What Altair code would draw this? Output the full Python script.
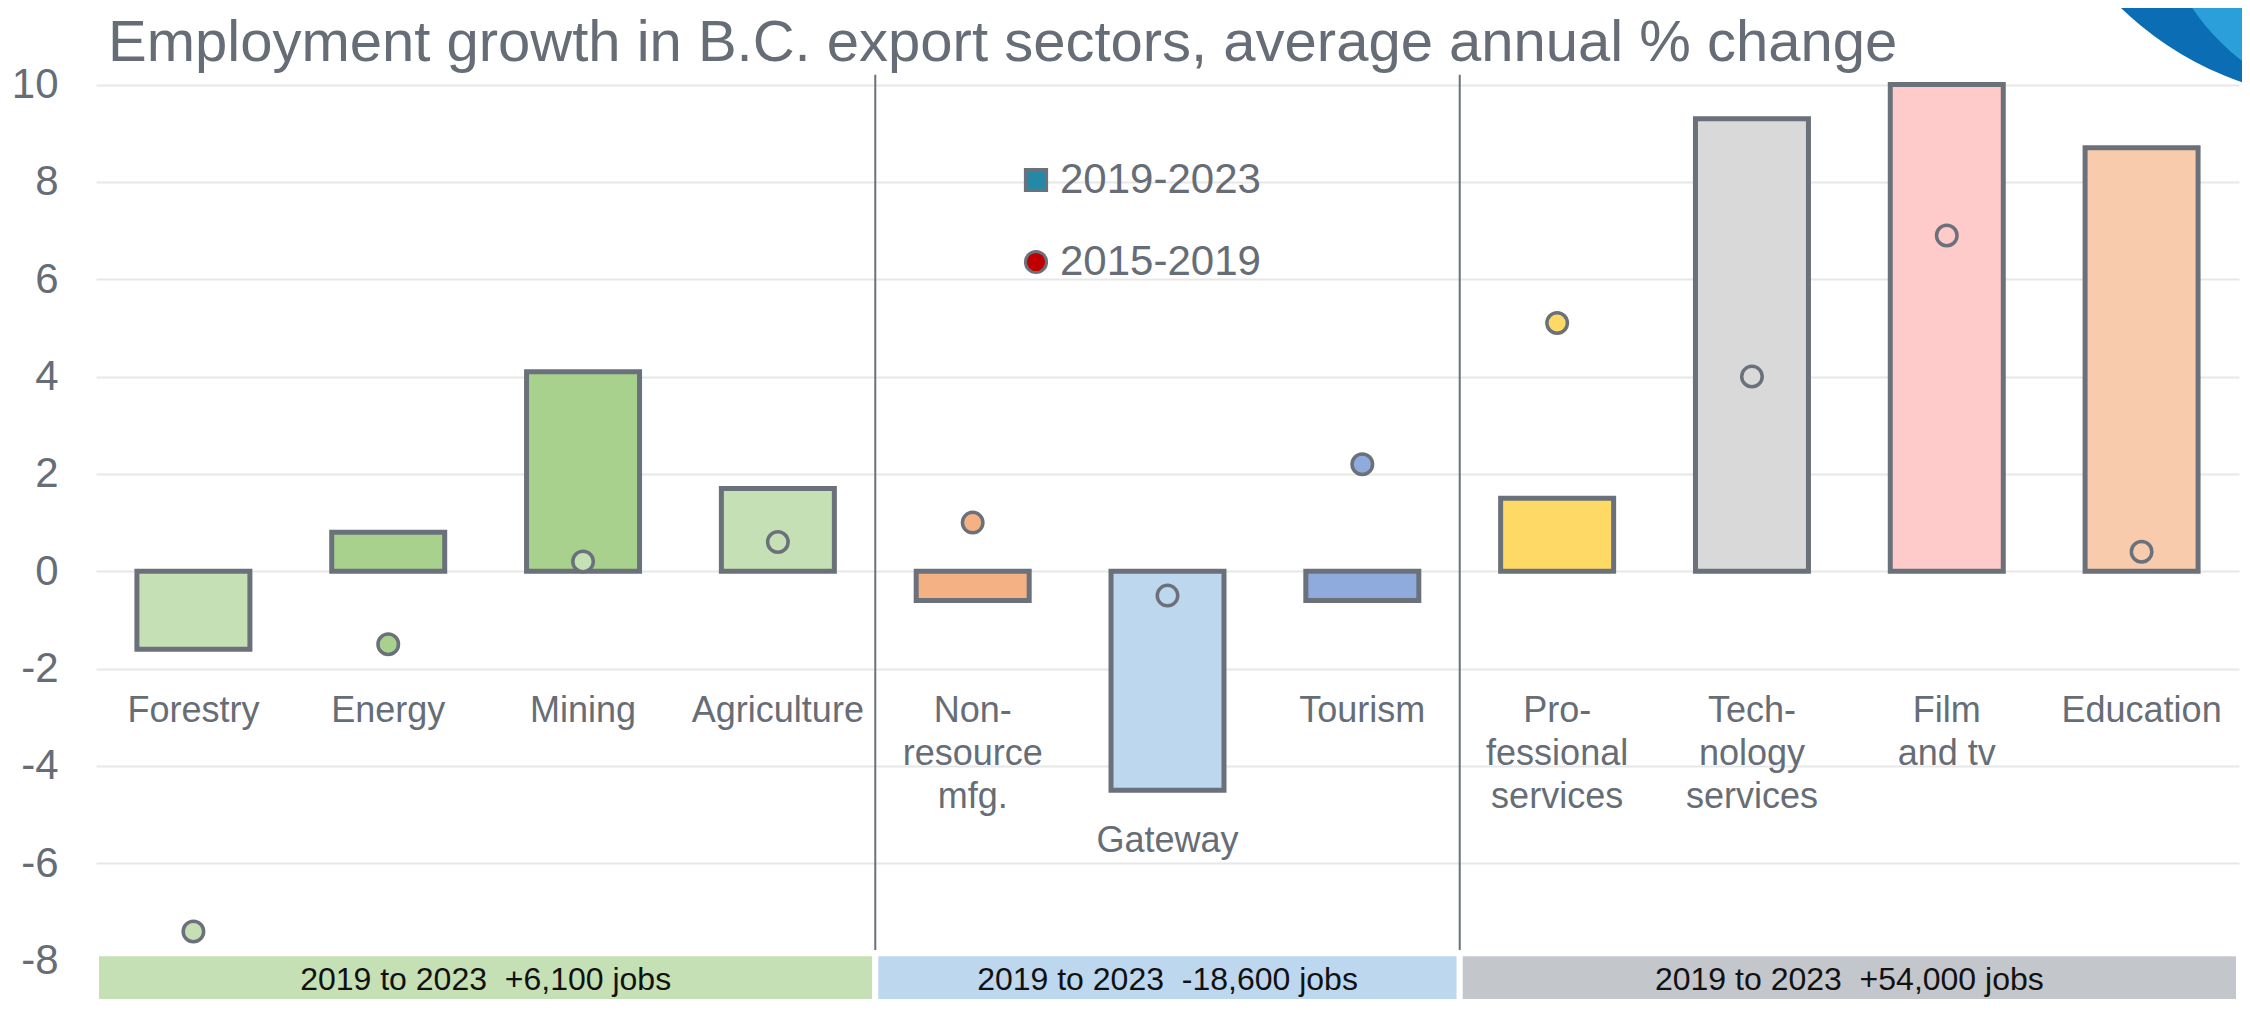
import altair as alt
import pandas as pd

# ---------------- data ----------------
categories = ["Forestry", "Energy", "Mining", "Agriculture", "Non-resource mfg.",
              "Gateway", "Tourism", "Professional services", "Technology services",
              "Film and tv", "Education"]
labels = ["Forestry", "Energy", "Mining", "Agriculture", "Non-\nresource\nmfg.",
          "Gateway", "Tourism", "Pro-\nfessional\nservices", "Tech-\nnology\nservices",
          "Film\nand tv", "Education"]
growth_2019_2023 = [-1.6, 0.8, 4.1, 1.7, -0.6, -4.5, -0.6, 1.5, 9.3, 10.0, 8.7]
growth_2015_2019 = [-7.4, -1.5, 0.2, 0.6, 1.0, -0.5, 2.2, 5.1, 4.0, 6.9, 0.4]
groups = ["2019 to 2023\u00a0 +6,100 jobs", "2019 to 2023\u00a0 -18,600 jobs",
          "2019 to 2023\u00a0 +54,000 jobs"]
group_sizes = [4, 3, 4]
series = ["2019-2023", "2015-2019"]
y_ticks = [-8, -6, -4, -2, 0, 2, 4, 6, 8, 10]
TITLE = "Employment growth in B.C. export sectors, average annual % change"

# ---------------- styles ----------------
bar_colors = ["#c5e0b4", "#a9d18e", "#a9d18e", "#c5e0b4", "#f4b183", "#bdd7ee",
              "#8faadc", "#ffd966", "#d9d9d9", "#ffcaca", "#f8cbad"]
dot_colors = ["#c5e0b4", "#a9d18e", "#c5e0b4", "#c5e0b4", "#f4b183", "#bdd7ee",
              "#8faadc", "#ffd966", "#d9d9d9", "#ffcaca", "#f8cbad"]
group_colors = ["#c5e0b4", "#bdd7ee", "#c3c6cb"]
series_colors = ["#2589a6", "#c00000"]
FONT = "Liberation Sans, Arial, sans-serif"
TEXT = "#666d76"
GRAY = "#6b717a"

W, H = 2143, 932
Y_DOMAIN = [-8.85, 10.3]
zero_px = H * Y_DOMAIN[1] / (Y_DOMAIN[1] - Y_DOMAIN[0])

df = pd.DataFrame({
    "category": categories,
    "dot_key": categories,
    "label": labels,
    "v1923": growth_2019_2023,
    "v1519": growth_2015_2019,
})

starts, ends, pos = [], [], 0
for n in group_sizes:
    starts.append(pos)
    pos += n
    ends.append(pos)
band_df = pd.DataFrame({"group": groups, "start": starts, "end": ends})
sep_df = pd.DataFrame({"category": [categories[s] for s in starts[1:]]})
legend_df = pd.DataFrame({"series": series})
one = pd.DataFrame({"k": [0]})

xscale = alt.Scale(domain=categories, paddingInner=0, paddingOuter=0)
yscale = alt.Scale(domain=Y_DOMAIN, nice=False, zero=False)
x_plain = alt.X("category:N", sort=categories, scale=xscale, axis=None, title=None)

bars = alt.Chart(df).mark_bar(width={"band": 0.58}, stroke=GRAY, strokeWidth=5).encode(
    x=alt.X("category:N", sort=categories, scale=xscale, title=None,
            axis=alt.Axis(orient="top", offset=-zero_px, labels=False, tickBand="extent",
                          tickSize=11, tickWidth=2, tickColor=GRAY, domainColor=GRAY,
                          domainWidth=2, grid=False, title=None)),
    y=alt.Y("v1923:Q", scale=yscale, title=None, stack=None,
            axis=alt.Axis(values=y_ticks, grid=True, gridColor="#e7e7e7", gridWidth=2,
                          domain=False, ticks=False, labelFontSize=42, labelFont=FONT,
                          labelColor=TEXT, labelPadding=38, title=None,
                          labelExpr="'' + datum.value")),
    fill=alt.Fill("category:N", scale=alt.Scale(domain=categories, range=bar_colors), legend=None),
)

points = alt.Chart(df).mark_point(filled=True, size=420, stroke=GRAY, strokeWidth=3.5, opacity=1).encode(
    x=x_plain,
    y=alt.Y("v1519:Q", scale=yscale, title=None),
    fill=alt.Fill("dot_key:N", scale=alt.Scale(domain=categories, range=dot_colors), legend=None),
)

seps = alt.Chart(sep_df).mark_rule(color=GRAY, strokeWidth=2).encode(
    x=alt.X("category:N", sort=categories, scale=xscale, axis=None, title=None, bandPosition=0),
    y=alt.datum(10.2),
    y2=alt.datum(-8.05),
)

label_style = dict(fontSize=36, font=FONT, color=TEXT, align="center", baseline="top",
                   lineBreak="\n", lineHeight=43)
labels_upper = alt.Chart(df).transform_filter("datum.v1923 > -2.5").mark_text(**label_style).encode(
    x=x_plain, y=alt.datum(-2.52), text="label:N")
labels_lower = alt.Chart(df).transform_filter("datum.v1923 <= -2.5").mark_text(**label_style).encode(
    x=x_plain, y=alt.datum(-5.19), text="label:N")

inner = alt.layer(bars, points, seps, labels_upper, labels_lower).resolve_scale(fill="independent")

bx = alt.Scale(domain=[0, len(categories)], nice=False, zero=False)
band_rects = alt.Chart(band_df).mark_rect(stroke="white", strokeWidth=6).encode(
    x=alt.X("start:Q", scale=bx, axis=None, title=None),
    x2="end:Q",
    y=alt.datum(-7.85),
    y2=alt.datum(Y_DOMAIN[0]),
    fill=alt.Fill("group:N", scale=alt.Scale(domain=groups, range=group_colors), legend=None),
)
band_text = alt.Chart(band_df).transform_calculate(mid="(datum.start + datum.end) / 2").mark_text(
    fontSize=32, font=FONT, color="#111111", align="center", baseline="middle").encode(
    x=alt.X("mid:Q", scale=bx, axis=None, title=None),
    y=alt.datum(-8.4),
    text="group:N",
)
bands = alt.layer(band_rects, band_text)

# decorative corner swoosh (symbol size = (2r)^2 for circles)
swoosh_dark = alt.Chart(one).mark_point(shape="circle", filled=True, opacity=1, size=441960,
                                        color="#0b6db3").encode(
    x=alt.value(2255.5), y=alt.value(-301.5))
swoosh_light = alt.Chart(one).mark_point(shape="circle", filled=True, opacity=1, size=219961,
                                         color="#2a9fd9").encode(
    x=alt.value(2290), y=alt.value(-194))

title_text = alt.Chart(one).mark_text(text=TITLE, fontSize=58, font=FONT, color=TEXT,
                                      align="left", baseline="alphabetic").encode(
    x=alt.value(12), y=alt.value(-9))

leg = alt.Legend(orient="none", legendX=919, legendY=89, title=None, labelFontSize=42,
                 labelFont=FONT, labelColor=TEXT, symbolSize=450, symbolStrokeWidth=3,
                 rowPadding=40, labelOffset=3, padding=0, symbolOpacity=1, labelLimit=600)
legend_layer = alt.Chart(legend_df).transform_filter("false").mark_point(
    filled=True, opacity=1).encode(
    color=alt.Color("series:N", scale=alt.Scale(domain=series, range=series_colors), legend=leg),
    shape=alt.Shape("series:N", scale=alt.Scale(domain=series, range=["square", "circle"]), legend=leg),
    stroke=alt.value(GRAY),
    strokeWidth=alt.value(3),
)

chart = alt.layer(inner, bands, swoosh_dark, swoosh_light, title_text, legend_layer).resolve_scale(
    x="independent", fill="independent"
).properties(
    width=W, height=H,
    padding={"left": 88, "top": 62, "right": 3, "bottom": 0},
    autosize=alt.AutoSizeParams(type="none"),
).configure_view(stroke=None)

chart.save("out.html", embed_options={"renderer": "svg", "actions": False})
